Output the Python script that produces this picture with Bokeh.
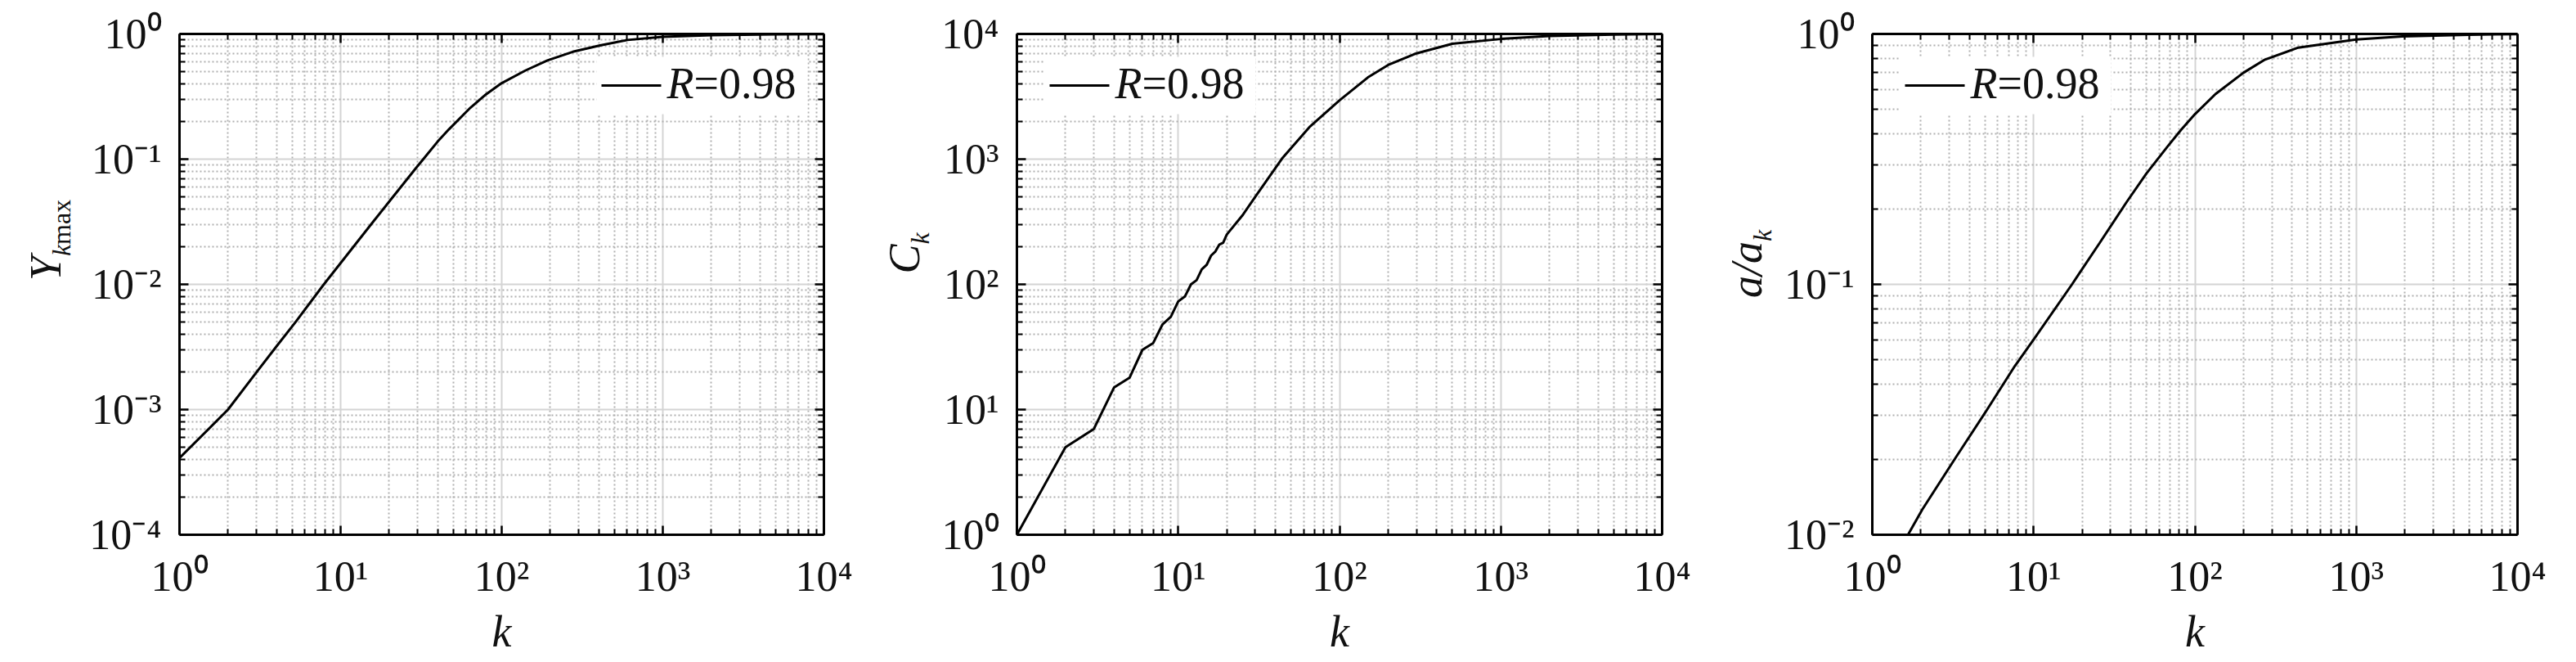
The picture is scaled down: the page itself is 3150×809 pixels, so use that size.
from bokeh.plotting import figure
from bokeh.models import LogAxis, FixedTicker, CustomJSTickFormatter, Label, BoxAnnotation, Range1d
from bokeh.layouts import row
from bokeh.embed import file_html
from bokeh.resources import INLINE

FONT = "Liberation Serif"
TXT = "#111111"

# ---------------- data ----------------
k_ymax = [1, 2, 3, 4, 5.25, 7.8, 10, 15.7, 20, 29.4, 33, 40, 47, 64, 80, 100, 140, 192,
          276, 408, 603, 1000, 2000, 5000, 10000]
y_kmax = [4.1e-4, 1.0e-3, 1.98e-3, 3.2e-3, 5.0e-3, 9.85e-3, 1.48e-2, 3.09e-2, 4.57e-2,
          8.5e-2, 0.102, 0.138, 0.173, 0.258, 0.33, 0.405, 0.51, 0.615, 0.72, 0.81,
          0.895, 0.95, 0.978, 0.992, 0.997]

k_c = [1, 2, 3, 4, 5, 6, 7, 8, 9, 10, 11, 12, 13, 14, 15, 16, 17, 18, 19, 20, 25, 30,
       44, 65, 100, 150, 200, 300, 500, 1000, 2000, 5000, 10000]
c_k = [1, 5, 7, 15, 18, 30, 34, 48, 55, 73, 80, 100, 108, 132, 143, 170, 183, 208,
       215, 250, 355, 500, 1010, 1800, 2950, 4500, 5650, 7000, 8350, 9120, 9620,
       9900, 9990]

k_a = [1.665, 2.04, 3.25, 5.0, 7.65, 10.05, 17.3, 25.6, 37.7, 50, 67.6, 82, 100, 134,
       200, 272, 437, 1000, 1930, 5000, 10000]
a_ak = [0.0100, 0.0126, 0.0201, 0.0307, 0.0472, 0.0605, 0.100, 0.146, 0.213, 0.277,
        0.355, 0.414, 0.478, 0.575, 0.70, 0.79, 0.882, 0.95, 0.977, 0.993, 0.998]

legend_text = ("R", "=0.98")
x_ticks = [1, 10, 100, 1000, 10000]
x_tick_labels = ["10\u2070", "10\u00b9", "10\u00b2", "10\u00b3", "10\u2074"]
y1_ticks = [1e-4, 1e-3, 1e-2, 1e-1, 1]
y1_tick_labels = ["10\u207b\u2074", "10\u207b\u00b3", "10\u207b\u00b2", "10\u207b\u00b9", "10\u2070"]
y2_ticks = [1, 10, 100, 1000, 10000]
y2_tick_labels = ["10\u2070", "10\u00b9", "10\u00b2", "10\u00b3", "10\u2074"]
y3_ticks = [1e-2, 1e-1, 1]
y3_tick_labels = ["10\u207b\u00b2", "10\u207b\u00b9", "10\u2070"]

# ---------------- layout constants ----------------
H = 808
TOP = 41
FRAME_H = 612
BOTTOM = H - TOP - FRAME_H
RIGHT = 40
TITLE_SHIFT = 104


def minor_ticks(ticks):
    out = []
    for t in ticks[:-1]:
        out += [m * t for m in range(2, 10)]
    return out


def style_axis(ax, ticker, labels=None):
    ax.ticker = ticker
    if labels is None:
        ax.formatter = CustomJSTickFormatter(code="return ''")
        ax.major_label_standoff = 0
    else:
        ax.formatter = CustomJSTickFormatter(args=dict(labels=labels), code="return labels[index]")
        ax.major_label_standoff = 22
        ax.major_label_text_font = FONT
        ax.major_label_text_font_size = "52px"
        ax.major_label_text_color = TXT
    ax.axis_line_color = "black"
    ax.axis_line_width = 3
    ax.major_tick_line_color = "black"
    ax.major_tick_line_width = 2.5
    ax.minor_tick_line_color = "black"
    ax.minor_tick_line_width = 2
    ax.major_tick_in = 11
    ax.major_tick_out = 0
    ax.minor_tick_in = 7
    ax.minor_tick_out = 0


def main_panel(kx, vy, y_ticks, y_labels, left, frame_w, legend_bx):
    width = left + frame_w + RIGHT
    p = figure(width=width, height=H, x_axis_type="log", y_axis_type="log",
               x_range=Range1d(x_ticks[0], x_ticks[-1]),
               y_range=Range1d(y_ticks[0], y_ticks[-1]),
               output_backend="svg", toolbar_location=None,
               min_border_left=left, min_border_right=RIGHT, min_border_top=TOP,
               min_border_bottom=BOTTOM)
    p.outline_line_color = None
    p.background_fill_color = "white"
    p.border_fill_color = "white"

    xt = FixedTicker(ticks=x_ticks, minor_ticks=minor_ticks(x_ticks))
    yt = FixedTicker(ticks=y_ticks, minor_ticks=minor_ticks(y_ticks))

    p.add_layout(LogAxis(), "above")
    p.add_layout(LogAxis(), "right")
    style_axis(p.below[0], xt, x_tick_labels)
    style_axis(p.left[0], yt, y_labels)
    style_axis(p.above[0], xt)
    style_axis(p.right[0], yt)

    xa = p.below[0]
    xa.axis_label = "k"
    xa.axis_label_text_font = FONT
    xa.axis_label_text_font_style = "italic"
    xa.axis_label_text_font_size = "54px"
    xa.axis_label_text_color = TXT
    xa.axis_label_standoff = 6

    p.xgrid.ticker = xt
    p.ygrid.ticker = yt
    for g in (p.xgrid, p.ygrid):
        g.grid_line_color = "#d4d4d4"
        g.grid_line_width = 2
        g.minor_grid_line_color = "#b0b0b0"
        g.minor_grid_line_width = 2
        g.minor_grid_line_dash = "2 3"

    # legend background
    p.add_layout(BoxAnnotation(left=legend_bx, right=legend_bx + 258, bottom=514, top=584,
                               left_units="screen", right_units="screen",
                               bottom_units="screen", top_units="screen",
                               fill_color="white", fill_alpha=1.0, line_color=None,
                               level="underlay"))

    p.line(kx, vy, line_color="black", line_width=3)

    # legend sample and text (text vertically centred on the sample line)
    p.add_layout(BoxAnnotation(left=legend_bx + 6, right=legend_bx + 79, bottom=547.5, top=550.5,
                               left_units="screen", right_units="screen",
                               bottom_units="screen", top_units="screen",
                               fill_color="black", fill_alpha=1.0, line_color=None))
    p.add_layout(Label(x=legend_bx + 86, y=552, x_units="screen", y_units="screen",
                       text=legend_text[0], text_font=FONT, text_font_style="italic",
                       text_font_size="54px", text_color=TXT,
                       text_align="left", text_baseline="middle"))
    p.add_layout(Label(x=legend_bx + 86 + 33, y=552, x_units="screen", y_units="screen",
                       text=legend_text[1], text_font=FONT,
                       text_font_size="54px", text_color=TXT,
                       text_align="left", text_baseline="middle"))
    return p


def title_panel(width, parts, base_x, drop):
    t = figure(width=width, height=H, x_range=Range1d(0, width), y_range=Range1d(0, H),
               x_axis_location=None, y_axis_location=None,
               output_backend="svg", toolbar_location=None, min_border=0,
               min_border_left=0, min_border_right=0, min_border_top=0, min_border_bottom=0)
    t.outline_line_color = None
    t.grid.visible = False
    t.background_fill_color = "white"
    t.border_fill_color = "white"
    total = sum(adv for _, _, _, _, adv in parts)
    center = H - (TOP + FRAME_H / 2) - TITLE_SHIFT - drop
    pos = center - total / 2
    for txt, style, size, shift, adv in parts:
        # rotated text, anchored at its own centre
        t.add_layout(Label(x=base_x + shift - 0.3375 * size, y=pos + adv / 2,
                           x_units="screen", y_units="screen",
                           text=txt, text_font=FONT, text_font_style=style,
                           text_font_size=f"{size}px", text_color=TXT,
                           angle=90, angle_units="deg",
                           text_align="center", text_baseline="middle"))
        pos += adv
    return t


t1 = title_panel(94, [("Y", "italic", 54, 0, 30), ("k", "italic", 32, 11, 14.2),
                      ("max", "normal", 32, 11, 55)], 74, -3)
p1 = main_panel(k_ymax, y_kmax, y1_ticks, y1_tick_labels, 125, 788, 510)
t2 = title_panel(96, [("C", "italic", 54, 0, 36), ("k", "italic", 32, 11, 14.2)], 77, 13)
p2 = main_panel(k_c, c_k, y2_ticks, y2_tick_labels, 100, 789, 34)
t3 = title_panel(101, [("a/a", "italic", 54, 0, 69), ("k", "italic", 32, 11, 14.2)], 82, 26)
p3 = main_panel(k_a, a_ak, y3_ticks, y3_tick_labels, 116, 789, 34)

layout = row(t1, p1, t2, p2, t3, p3)
open("out.html", "w").write(file_html(layout, INLINE))
